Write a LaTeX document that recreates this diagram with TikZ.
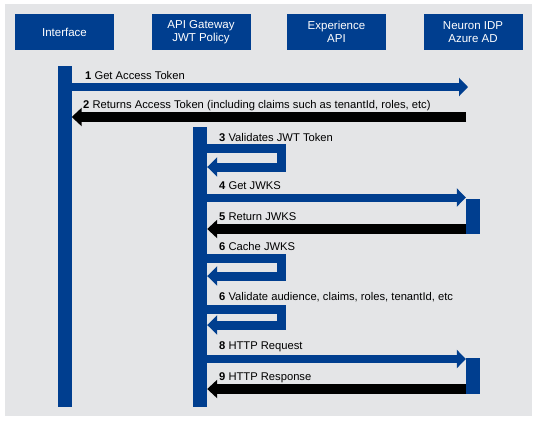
\documentclass[tikz,border=0pt]{standalone}
\usepackage{fontspec}
\setmainfont{Liberation Sans}
\usetikzlibrary{arrows.meta,calc}

\definecolor{seqblue}{RGB}{0,62,143}
\definecolor{seqgray}{RGB}{228,229,231}

\begin{document}
\begin{tikzpicture}[x=1pt, y=-1pt,
  hdr/.style={fill=seqblue, text=white, minimum width=99pt, minimum height=36pt,
              inner sep=0pt, align=center, font=\fontsize{11.5}{13.5}\selectfont},
  bar/.style={fill=seqblue, minimum width=14pt, inner sep=0pt},
  lbl/.style={anchor=base west, inner sep=0pt, font=\fontsize{11.2}{13}\selectfont},
  callarr/.style={draw=seqblue, line width=8pt, -{Triangle[length=9pt 0 0, width=18pt 0 0]}},
  backarr/.style={draw=black, line width=10pt, -{Triangle[length=10pt 0 0, width=18pt 0 0]}},
  selfarr/.style={draw=seqblue, line width=9pt, miter limit=4,
                  -{Triangle[length=10pt 0 0, width=19pt 0 0]}}
]

% ─── canvas ───
\fill[white] (0,0) rectangle (538,421);
\useasboundingbox (0,0) rectangle (538,421);
\fill[seqgray] (5,4) rectangle (532,416);

% ─── participants ───
\node[hdr] (ifc) at (64.5,32) {Interface};
\node[hdr] (gw)  at (201,32)  {API Gateway\\JWT Policy};
\node[hdr] (exp) at (336.5,32) {Experience\\API};
\node[hdr] (idp) at (473,32)  {Neuron IDP\\Azure AD};

% ─── lifelines / activation bars ───
\node[bar, minimum height=341pt] (ifcbar)  at (64.5,236.5) {};
\node[bar, minimum height=280pt] (gwbar)   at (200,267)   {};
\node[bar, minimum height=35pt]  (idpbar1) at (473,216.5) {};
\node[bar, minimum height=36pt]  (idpbar2) at (473,376)   {};

% ─── message rows ───
\coordinate (m1) at (0,87);
\coordinate (m2) at (0,117);
\coordinate (m3a) at (0,148);  \coordinate (m3b) at (0,167);
\coordinate (m4) at (0,197.5);
\coordinate (m5) at (0,229);
\coordinate (m6a) at (0,258);  \coordinate (m6b) at (0,276);
\coordinate (m7a) at (0,309);  \coordinate (m7b) at (0,325);
\coordinate (m8) at (0,359);
\coordinate (m9) at (0,389);
\coordinate (t1) at (468,87);
\coordinate (s2) at (466,117);

% ─── token exchange ───
\draw[callarr] (ifcbar.east |- m1) -- (t1);
\node[lbl] at (85,79) {\textbf{1} Get Access Token};
\draw[backarr] (s2) -- (ifcbar.east |- m2);
\node[lbl] at (83,108) {\textbf{2} Returns Access Token (including claims such as tenantId, roles, etc)};

% ─── gateway validation ───
\draw[selfarr] (gwbar.east |- m3a) -- ++(74,0) |- (gwbar.east |- m3b);
\node[lbl] at (219,141) {\textbf{3} Validates JWT Token};

\draw[callarr] (gwbar.east |- m4) -- (idpbar1.west |- m4);
\node[lbl] at (219,189) {\textbf{4} Get JWKS};
\draw[backarr] (idpbar1.west |- m5) -- (gwbar.east |- m5);
\node[lbl] at (219,220) {\textbf{5} Return JWKS};

\draw[selfarr] (gwbar.east |- m6a) -- ++(74,0) |- (gwbar.east |- m6b);
\node[lbl] at (219,250) {\textbf{6} Cache JWKS};

\draw[selfarr] (gwbar.east |- m7a) -- ++(74,0) |- (gwbar.east |- m7b);
\node[lbl] at (219,300) {\textbf{6} Validate audience, claims, roles, tenantId, etc};

% ─── request / response ───
\draw[callarr] (gwbar.east |- m8) -- (idpbar2.west |- m8);
\node[lbl] at (219,349) {\textbf{8} HTTP Request};
\draw[backarr] (idpbar2.west |- m9) -- (gwbar.east |- m9);
\node[lbl] at (219,380) {\textbf{9} HTTP Response};

\end{tikzpicture}
\end{document}
